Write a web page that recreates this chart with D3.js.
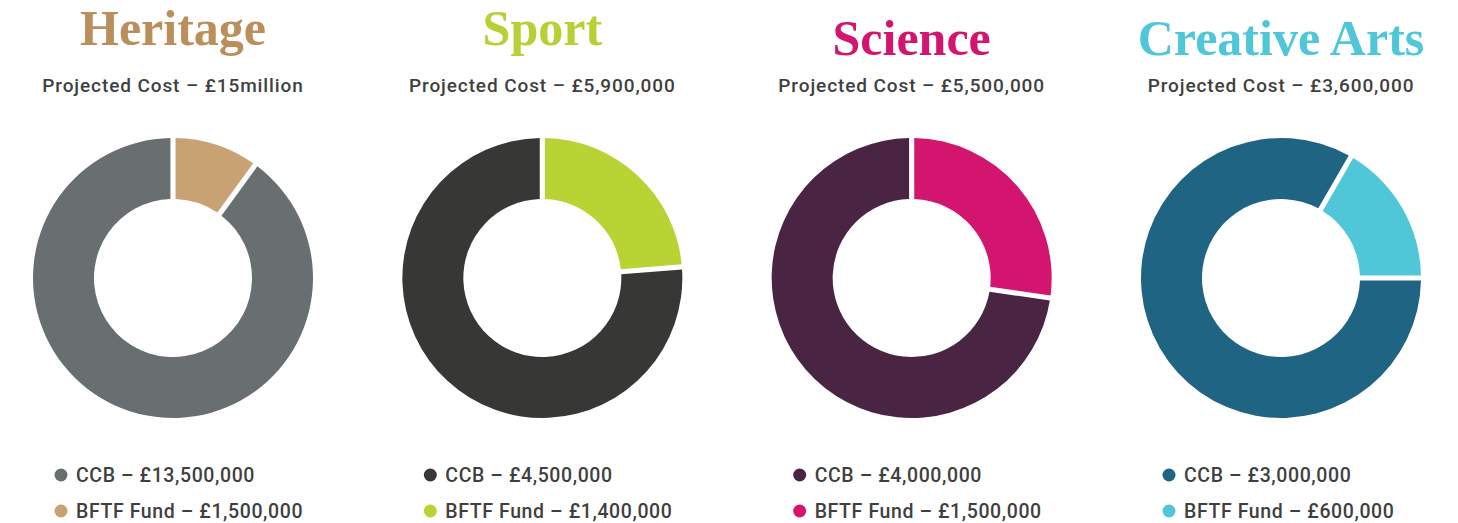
<!DOCTYPE html>
<html>
<head>
<meta charset="utf-8">
<script src="https://cdn.jsdelivr.net/npm/d3@7"></script>
<style>
  html, body { margin: 0; padding: 0; background: #fff; }
  svg { display: block; }
  .title { font-family: "Liberation Serif", "DejaVu Serif", serif; font-weight: bold; font-size: 50px; }
  .sub { font-family: Roboto, "Noto Sans", sans-serif; font-weight: 500; font-size: 19px; letter-spacing: 0.9px; fill: #3f3f3f; }
  .leg { font-family: Roboto, "Noto Sans", sans-serif; font-weight: 500; font-size: 19.5px; letter-spacing: 0.6px; fill: #3f3f3f; }
</style>
</head>
<body>
<div id="chart"></div>
<script>
// data
var categories = ["Heritage", "Sport", "Science", "Creative Arts"];
var projected = ["£15million", "£5,900,000", "£5,500,000", "£3,600,000"];
var ccbValues = [13500000, 4500000, 4000000, 3000000];
var bftfValues = [1500000, 1400000, 1500000, 600000];
var ccbLabels = ["£13,500,000", "£4,500,000", "£4,000,000", "£3,000,000"];
var bftfLabels = ["£1,500,000", "£1,400,000", "£1,500,000", "£600,000"];

// colours
var ccbColors = ["#696e71", "#373735", "#4a2443", "#1f6583"];
var bftfColors = ["#c9a273", "#b7d334", "#d4156f", "#4fc7d8"];
var titleColors = ["#bb8f5c", "#b5d133", "#d4156f", "#4fc7d8"];
// where the BFTF slice begins, degrees clockwise from 12 o'clock
var bftfStart = [0, 0, 0, 30];

var width = 1458, height = 523;
var outerR = 140, innerR = 79;
var cy = 278;

var svg = d3.select("#chart").append("svg")
  .attr("width", width)
  .attr("height", height);

var x = d3.scalePoint()
  .domain(categories)
  .range([173, 1281]);

var arc = d3.arc()
  .innerRadius(innerR)
  .outerRadius(outerR)
  .padAngle(0.032);

categories.forEach(function(name, i) {
  var g = svg.append("g")
    .attr("transform", "translate(" + x(name) + ",0)");

  // titles are lined up on the bottom of their ink
  var hasDescender = /[gjpqy]/.test(name);
  g.append("text")
    .attr("class", "title")
    .attr("text-anchor", "middle")
    .attr("y", hasDescender ? 45 : 55)
    .style("fill", titleColors[i])
    .text(name);

  g.append("text")
    .attr("class", "sub")
    .attr("text-anchor", "middle")
    .attr("y", 92)
    .text("Projected Cost – " + projected[i]);

  var slices = [
    {key: "BFTF", value: bftfValues[i], color: bftfColors[i]},
    {key: "CCB", value: ccbValues[i], color: ccbColors[i]}
  ];

  var start = bftfStart[i] * Math.PI / 180;
  var pie = d3.pie()
    .sort(null)
    .value(function(d) { return d.value; })
    .startAngle(start)
    .endAngle(start + 2 * Math.PI);

  g.append("g")
    .attr("transform", "translate(0," + cy + ")")
    .selectAll("path")
    .data(pie(slices))
    .join("path")
    .attr("d", arc)
    .style("fill", function(d) { return d.data.color; });

  // legend
  var legend = [
    {text: "CCB – " + ccbLabels[i], color: ccbColors[i]},
    {text: "BFTF Fund – " + bftfLabels[i], color: bftfColors[i]}
  ];
  var leg = g.append("g")
    .attr("transform", "translate(-112,0)");
  var items = leg.selectAll("g")
    .data(legend)
    .join("g")
    .attr("transform", function(d, j) { return "translate(0," + (475 + j * 36) + ")"; });
  items.append("circle")
    .attr("r", 6.5)
    .style("fill", function(d) { return d.color; });
  items.append("text")
    .attr("class", "leg")
    .attr("x", 15)
    .attr("y", 7)
    .text(function(d) { return d.text; });
});
</script>
</body>
</html>
